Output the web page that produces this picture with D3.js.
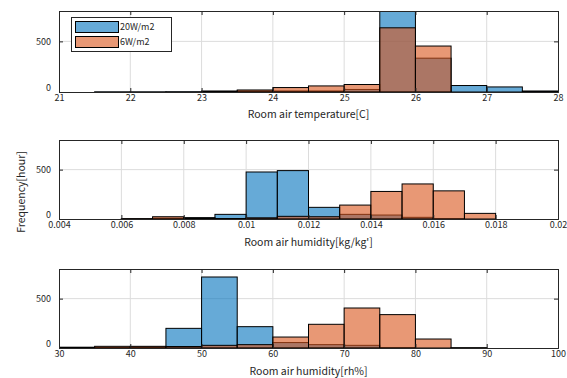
<!DOCTYPE html>
<html>
<head>
<meta charset="utf-8">
<script src="https://cdn.jsdelivr.net/npm/d3@7"></script>
<style>
  body { margin: 0; background: #fff; }
  text { font-family: "Noto Sans CJK JP", "Noto Sans", sans-serif; fill: #262626; }
</style>
</head>
<body>
<svg id="chart" width="567" height="378"></svg>
<script>
// series names
const seriesNames = ['20W/m2', '6W/m2'];

// panel 1 - room air temperature, bins of 0.5 C
const tempEdges = [21.5, 22, 22.5, 23, 23.5, 24, 24.5, 25, 25.5, 26, 26.5, 27, 27.5, 28];
const temp20W = [2, 2, 3, 5, 10, 10, 10, 25, 880, 334, 64, 50, 10];
const temp6W  = [0, 0, 0, 10, 20, 44, 60, 74, 634, 454, 0, 0, 0];
const tempTicks = [21, 22, 23, 24, 25, 26, 27, 28];

// panel 2 - absolute humidity, bins of 0.001 kg/kg'
const absEdges = [0.006, 0.007, 0.008, 0.009, 0.010, 0.011, 0.012, 0.013, 0.014, 0.015, 0.016, 0.017, 0.018];
const abs20W = [2, 8, 13, 47, 476, 490, 118, 47, 40, 17, 3, 0];
const abs6W  = [3, 23, 10, 5, 12, 27, 23, 141, 279, 355, 285, 57];
const absTicks = [0.004, 0.006, 0.008, 0.01, 0.012, 0.014, 0.016, 0.018, 0.02];

// panel 3 - relative humidity, bins of 5 %
const relEdges = [30, 35, 40, 45, 50, 55, 60, 65, 70, 75, 80, 85, 90];
const rel20W = [8, 5, 10, 199, 719, 216, 55, 34, 27, 3, 0, 2];
const rel6W  = [0, 17, 17, 15, 27, 34, 111, 240, 405, 338, 91, 1];
const relTicks = [30, 40, 50, 60, 70, 80, 90, 100];

const yTicks = [0, 500];

const colors = ['#0072BD', '#D95319'];
const svg = d3.select('#chart');
const left = 59, right = 558;

const panels = [
  { top: 11, bottom: 92, domain: [21, 28], edges: tempEdges, series: [temp20W, temp6W], ticks: tempTicks,
    fmt: d => d, label: 'Room air temperature[C]', labelY: 118, legend: true },
  { top: 140, bottom: 219, domain: [0.004, 0.02], edges: absEdges, series: [abs20W, abs6W], ticks: absTicks,
    fmt: d => +d.toFixed(3), label: "Room air humidity[kg/kg']", labelY: 246 },
  { top: 269, bottom: 348, domain: [30, 100], edges: relEdges, series: [rel20W, rel6W], ticks: relTicks,
    fmt: d => d, label: 'Room air humidity[rh%]', labelY: 375 }
];

panels.forEach((p, pi) => {
  const x = d3.scaleLinear().domain(p.domain).range([left, right]);
  const y = d3.scaleLinear().domain([0, 800]).range([p.bottom, p.top]);
  const g = svg.append('g');

  const clipId = 'clip' + pi;
  svg.append('clipPath').attr('id', clipId)
    .append('rect').attr('x', left).attr('y', p.top).attr('width', right - left).attr('height', p.bottom - p.top);

  // grid
  g.selectAll('.vg').data(p.ticks.slice(1, -1)).enter().append('line')
    .attr('x1', d => x(d)).attr('x2', d => x(d))
    .attr('y1', p.top).attr('y2', p.bottom)
    .attr('stroke', '#dcdcdc').attr('stroke-width', 1);
  g.selectAll('.hg').data([500]).enter().append('line')
    .attr('x1', left).attr('x2', right)
    .attr('y1', d => y(d)).attr('y2', d => y(d))
    .attr('stroke', '#dcdcdc').attr('stroke-width', 1);

  // bars
  p.series.forEach((vals, si) => {
    g.append('g').attr('clip-path', `url(#${clipId})`)
      .selectAll('rect').data(vals).enter().append('rect')
      .attr('x', (d, i) => x(p.edges[i]))
      .attr('width', (d, i) => x(p.edges[i + 1]) - x(p.edges[i]))
      .attr('y', d => y(d))
      .attr('height', d => y(0) - y(d))
      .attr('fill', colors[si]).attr('fill-opacity', 0.6)
      .attr('stroke', '#000').attr('stroke-width', 1);
  });

  // axes (ticks inward, box on)
  const xAxis = d3.axisBottom(x).tickValues(p.ticks).tickSize(-4).tickPadding(3).tickFormat(p.fmt);
  const xTop = d3.axisTop(x).tickValues(p.ticks).tickSize(-4).tickFormat('');
  const yAxis = d3.axisLeft(y).tickValues(yTicks).tickSize(-4).tickPadding(8);
  const yRight = d3.axisRight(y).tickValues(yTicks).tickSize(-4).tickFormat('');

  const yAxisG = g.append('g').attr('transform', `translate(${left},0)`).call(yAxis);
  [
    g.append('g').attr('transform', `translate(0,${p.bottom})`).call(xAxis),
    g.append('g').attr('transform', `translate(0,${p.top})`).call(xTop),
    yAxisG,
    g.append('g').attr('transform', `translate(${right},0)`).call(yRight)
  ].forEach(a => {
    a.select('.domain').attr('stroke', '#262626');
    a.selectAll('.tick line').attr('stroke', '#262626');
    a.selectAll('.tick text').style('font-family', '"Noto Sans CJK JP", sans-serif')
      .style('font-size', '9px').attr('fill', '#262626');
  });
  // the zero label sits a little above the baseline, as in the original
  yAxisG.selectAll('.tick text').filter(d => d === 0).attr('dy', '-0.2em');

  g.append('text')
    .attr('x', (left + right) / 2).attr('y', p.labelY)
    .attr('text-anchor', 'middle').style('font-size', '10.5px')
    .text(p.label);

  if (p.legend) {
    const lg = g.append('g');
    lg.append('rect').attr('x', 71.5).attr('y', 17.5).attr('width', 100).attr('height', 34)
      .attr('fill', '#fff').attr('stroke', '#262626').attr('stroke-width', 1);
    seriesNames.forEach((name, i) => {
      lg.append('rect').attr('x', 75.5).attr('y', 21.5 + i * 15).attr('width', 43).attr('height', 11)
        .attr('fill', colors[i]).attr('fill-opacity', 0.6).attr('stroke', '#000');
      lg.append('text').attr('x', 120).attr('y', 30 + i * 15)
        .style('font-size', '9px').text(name);
    });
  }
});

// shared y label
svg.append('text')
  .attr('transform', 'translate(25,192) rotate(-90)')
  .attr('text-anchor', 'middle').style('font-size', '10.5px')
  .text('Frequency[hour]');
</script>
</body>
</html>
